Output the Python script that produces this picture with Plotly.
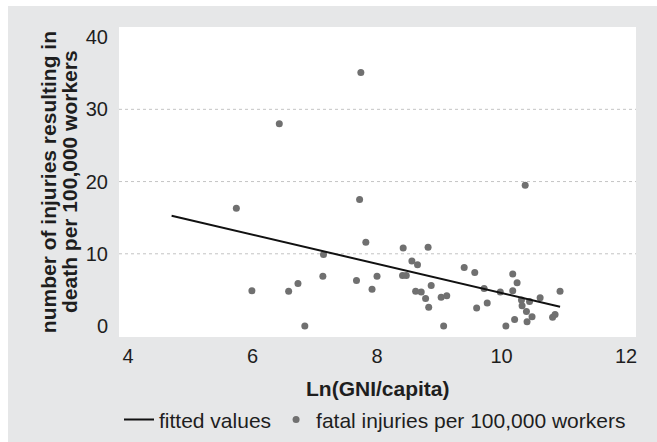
import plotly.graph_objects as go

# Log of GNI per capita and fatal injury rate per 100,000 workers, by country
gni_ln = [7.74, 6.43, 5.74, 7.72, 7.82, 7.14, 7.13, 7.67, 8.00, 7.92,
          5.99, 6.58, 6.73, 6.84, 10.38, 8.42, 8.82, 8.56, 8.65, 8.41,
          8.47, 8.87, 8.62, 8.71, 8.78, 8.83, 9.03, 9.12, 9.07, 9.40,
          9.57, 9.72, 9.60, 9.77, 9.98, 10.18, 10.25, 10.18, 10.07, 10.21,
          10.32, 10.45, 10.33, 10.40, 10.49, 10.41, 10.62, 10.94, 10.82, 10.86]
fatal_rate = [35.1, 28.0, 16.3, 17.5, 11.6, 9.9, 6.9, 6.3, 6.9, 5.1,
              4.9, 4.8, 5.9, 0.0, 19.5, 10.8, 10.9, 9.0, 8.5, 7.0,
              7.0, 5.6, 4.8, 4.7, 3.8, 2.6, 4.0, 4.2, 0.0, 8.1,
              7.4, 5.2, 2.5, 3.2, 4.7, 7.2, 6.0, 4.9, 0.0, 0.9,
              3.6, 3.4, 2.8, 2.0, 1.3, 0.6, 3.9, 4.8, 1.2, 1.6]

# Linear fit (end points of the fitted line)
fit_x = [4.70, 10.94]
fit_y = [15.27, 2.68]

x_ticks = [4, 6, 8, 10, 12]
y_ticks = [0, 10, 20, 30, 40]
grid_levels = [10, 20, 30]

FONT = "Liberation Sans, Arial, Helvetica, sans-serif"
TEXT = "#1e1e1e"
PANEL = "#e6e7e8"

fig = go.Figure()

fig.add_trace(go.Scatter(
    x=gni_ln, y=fatal_rate, mode="markers",
    name="fatal injuries per 100,000 workers",
    marker=dict(color="#707070", size=7, line=dict(width=0)),
    legendrank=2,
))
fig.add_trace(go.Scatter(
    x=fit_x, y=fit_y, mode="lines",
    name="fitted values",
    line=dict(color="#111111", width=2),
    legendrank=1,
))

shapes = [
    dict(type="line", xref="paper", yref="y", x0=0, x1=1, y0=g, y1=g,
         line=dict(color="#c4c4c4", width=1, dash="dot"), layer="below")
    for g in grid_levels
]
# thin white frame along the top and left edges of the grey panel
shapes += [
    dict(type="rect", xref="paper", yref="paper",
         x0=-0.25, x1=1.1, y0=1.0677, y1=1.2,
         fillcolor="white", line=dict(width=0), layer="below"),
    dict(type="rect", xref="paper", yref="paper",
         x0=-0.25, x1=-0.2147, y0=-0.4, y1=1.2,
         fillcolor="white", line=dict(width=0), layer="below"),
]

annotations = [
    dict(text="<b>Ln(GNI/capita)</b>", xref="paper", yref="paper",
         x=0.5, y=-0.165, xanchor="center", yanchor="middle", showarrow=False,
         font=dict(family=FONT, size=21, color=TEXT)),
    dict(text="<b>number of injuries resulting in</b>", xref="paper", yref="paper",
         x=-0.137, y=0.5, xanchor="center", yanchor="middle", showarrow=False,
         textangle=-90, font=dict(family=FONT, size=21, color=TEXT)),
    dict(text="<b>death per 100,000 workers</b>", xref="paper", yref="paper",
         x=-0.0967, y=0.5, xanchor="center", yanchor="middle", showarrow=False,
         textangle=-90, font=dict(family=FONT, size=21, color=TEXT)),
]

fig.update_layout(
    width=657, height=442,
    margin=dict(l=119, r=21, t=27, b=105, autoexpand=False),
    paper_bgcolor=PANEL,
    plot_bgcolor="white",
    font=dict(family=FONT, size=20, color=TEXT),
    showlegend=True,
    legend=dict(orientation="h", x=0.0, xanchor="left",
                yref="container", y=0.05, yanchor="middle",
                bgcolor="rgba(0,0,0,0)",
                font=dict(family=FONT, size=21, color=TEXT),
                itemwidth=30, tracegroupgap=0),
    shapes=shapes,
    annotations=annotations,
    xaxis=dict(range=[3.855, 12.16], tickvals=x_ticks, showgrid=False,
               zeroline=False, showline=False, ticks="outside", ticklen=1,
               tickcolor="rgba(0,0,0,0)", tickfont=dict(size=20, color=TEXT),
               automargin=False),
    yaxis=dict(range=[-1.52, 41.4], tickvals=y_ticks, showgrid=False,
               zeroline=False, showline=False, ticks="outside", ticklen=6,
               tickcolor="rgba(0,0,0,0)", tickfont=dict(size=20, color=TEXT),
               automargin=False),
)

fig.write_html("out.html")
